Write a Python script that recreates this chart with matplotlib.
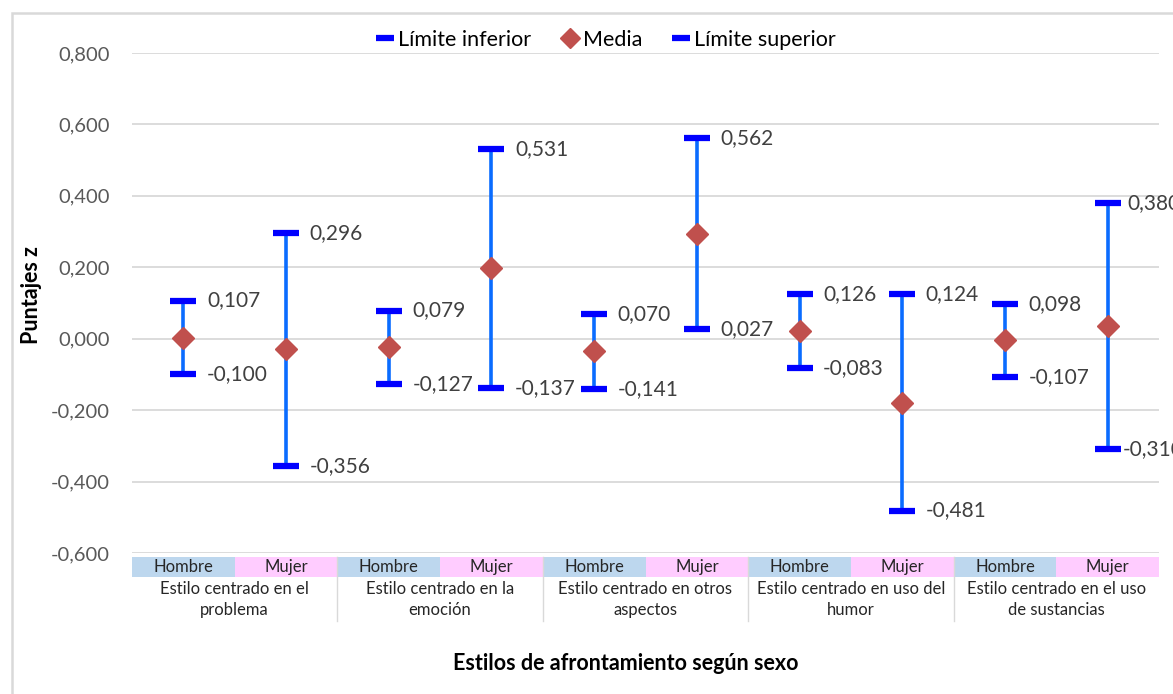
import matplotlib
matplotlib.use("Agg")
import matplotlib.pyplot as plt
from matplotlib.lines import Line2D
from matplotlib.patches import Rectangle

plt.rcParams['font.family'] = ['Lato', 'DejaVu Sans']

groups = ["Estilo centrado en el\nproblema", "Estilo centrado en la\nemoción",
          "Estilo centrado en otros\naspectos", "Estilo centrado en uso del\nhumor",
          "Estilo centrado en el uso\nde sustancias"]
sexes = ["Hombre", "Mujer"]
lower = [-0.100, -0.356, -0.127, -0.137, -0.141, 0.027, -0.083, -0.481, -0.107, -0.310]
mean = [0.003, -0.030, -0.024, 0.197, -0.035, 0.294, 0.021, -0.179, -0.004, 0.035]
upper = [0.107, 0.296, 0.079, 0.531, 0.070, 0.562, 0.126, 0.124, 0.098, 0.380]
yticks = [-0.6, -0.4, -0.2, 0.0, 0.2, 0.4, 0.6, 0.8]

W, H = 1173, 694
fig = plt.figure(figsize=(W / 100, H / 100), dpi=100)
ax = fig.add_axes([132 / W, 1 - 553 / H, (1159 - 132) / W, 500 / H])

n = len(lower)
xs = [i + 0.5 for i in range(n)]
line_col = '#0A6CFF'
cap_col = '#0000FF'
mean_col = '#C0504D'

ax.vlines(xs, lower, upper, color=line_col, lw=2.6, zorder=2)
ax.plot(xs, lower, ls='none', marker='_', ms=19, mew=4.5, color=cap_col, zorder=3)
ax.plot(xs, upper, ls='none', marker='_', ms=19, mew=4.5, color=cap_col, zorder=3)
ax.plot(xs, mean, ls='none', marker='D', ms=11.5, color=mean_col, mec=mean_col, zorder=4)

def fmt(v):
    return f"{v:.3f}".replace('.', ',')

for i, (x, lo, hi) in enumerate(zip(xs, lower, upper)):
    off = 17 if i < n - 1 else 14
    ax.annotate(fmt(hi), (x, hi), xytext=(off, 0), textcoords='offset points',
                ha='left', va='center', fontsize=15, color='#404040', zorder=5)
    ax.annotate(fmt(lo), (x, lo), xytext=(off - 3 if i == n - 1 else off, 0),
                textcoords='offset points',
                ha='left', va='center', fontsize=15, color='#404040', zorder=5)

ax.set_xlim(0, n)
ax.set_ylim(-0.6, 0.8)
ax.set_yticks(yticks)
ax.set_yticklabels([fmt(v) for v in yticks], fontsize=14.5, color='#595959')
ax.tick_params(axis='y', length=0, pad=16)
ax.set_xticks([])
ax.grid(axis='y', color='#D9D9D9', lw=1.3)
ax.set_axisbelow(True)
for s in ax.spines.values():
    s.set_visible(False)

# category band
tr = ax.get_xaxis_transform()
b_top = -4 / 500
b_bot = -24 / 500
band_cols = {'Hombre': '#BDD7EE', 'Mujer': '#FFCCFF'}
for i in range(n):
    sx = sexes[i % 2]
    ax.add_patch(Rectangle((i, b_bot), 1, b_top - b_bot, transform=tr, clip_on=False,
                           facecolor=band_cols[sx], edgecolor='none', zorder=1))
    ax.text(i + 0.5, (b_top + b_bot) / 2, sx, transform=tr, ha='center', va='center',
            fontsize=12, color='#262626')
for g, name in enumerate(groups):
    ax.text(2 * g + 1, -28 / 500, name, transform=tr, ha='center', va='top',
            fontsize=12, color='#262626', linespacing=1.35)
for g in range(1, len(groups)):
    ax.plot([2 * g, 2 * g], [b_top, -68 / 500], transform=tr, clip_on=False,
            color='#D9D9D9', lw=1)

ax.set_ylabel("Puntajes z", fontsize=15.5, fontweight='bold')
ax.yaxis.set_label_coords(-90 / 1027, 0.516)
fig.text(626 / W, 1 - 663 / H, "Estilos de afrontamiento según sexo", ha='center',
         va='center', fontsize=15.5, fontweight='bold', color='#000000')

handles = [Line2D([], [], ls='none', marker='_', ms=13, mew=4.5, color=cap_col),
           Line2D([], [], ls='none', marker='D', ms=10, color=mean_col),
           Line2D([], [], ls='none', marker='_', ms=13, mew=4.5, color=cap_col)]
fig.legend(handles, ["Límite inferior", "Media", "Límite superior"], loc='center',
           bbox_to_anchor=(606 / W, 1 - 40 / H), ncol=3, frameon=False, fontsize=15.5,
           handlelength=0.8, handletextpad=0.2, columnspacing=1.4)

fig.add_artist(Rectangle((12 / W, -0.05), 1.2, 1 - 13 / H + 0.05, transform=fig.transFigure,
                         fill=False, edgecolor='#D9D9D9', lw=1.8))

fig.savefig("out.png", dpi=100)
